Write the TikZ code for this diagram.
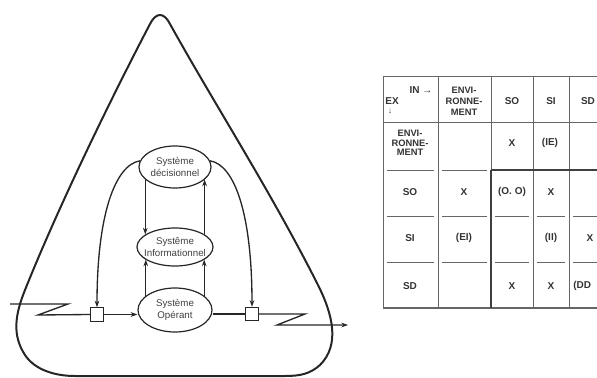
\documentclass[tikz,border=0pt]{standalone}
\usepackage{fontspec}
\setmainfont{Liberation Sans}
\usetikzlibrary{arrows.meta,shapes.geometric}
\begin{document}
\begin{tikzpicture}[x=0.75pt,y=-0.75pt,
  tri/.style={line width=1.5pt, draw=black!85, line join=round},
  conn/.style={line width=1pt, draw=black!85, line join=miter},
  arr/.style={conn, -{Stealth[length=5pt,width=3.5pt]}},
  ell/.style={ellipse, draw=black!85, line width=0.9pt, inner sep=0pt, fill=white},
  etxt/.style={font=\fontsize{7.3}{8.5}\selectfont, align=center, text=black!75, inner sep=0pt},
  sq/.style={draw=black!85, line width=0.8pt, fill=white, minimum size=10pt, inner sep=0pt},
  tl/.style={line width=0.6pt, draw=black!60},
  tk/.style={line width=1.3pt, draw=black!75},
  tt/.style={font=\bfseries\fontsize{7.5}{8}\selectfont, align=center, text=black!80, inner sep=0pt},
]
\useasboundingbox (0,0) rectangle (597,378);
\clip (0,0) rectangle (597,378);

% rounded triangle
\draw[tri] (150,24) .. controls (156,12) and (164,12) .. (170,24)
  .. controls (215,105) and (270,190) .. (318,285)
  .. controls (333,315) and (340,345) .. (320,365)
  .. controls (310,374) and (300,376) .. (285,376)
  -- (75,376)
  .. controls (55,376) and (35,370) .. (25,355)
  .. controls (12,335) and (15,315) .. (25,290)
  .. controls (55,215) and (105,110) .. (150,24) -- cycle;

% ellipses
\node[ell, minimum width=54pt, minimum height=31.5pt,
  label={[etxt,name=Dt]center:Système\\décisionnel}] (D) at (175,167) {};
\node[ell, minimum width=57pt, minimum height=28.5pt,
  label={[etxt,name=It]center:Systême\\Informationnel}] (I) at (175,247) {};
\node[ell, minimum width=55.5pt, minimum height=33pt,
  label={[etxt,name=Ot]center:Système\\Opérant}] (O) at (175,310) {};

% squares
\node[sq] (LS) at (97,314.5) {};
\node[sq] (RS) at (252,314) {};

% vertical arrows
\draw[arr] (D.203) -- (D.203 |- I.157);
\draw[arr] (I.23) -- (I.23 |- D.337);
\draw[arr] (O.154) -- (O.154 |- I.203);
\draw[arr] (O.26) -- (O.26 |- I.337);

% curved arrows
\draw[arr] (D.170) .. controls (115,165) and (97,215) .. (LS.north);
\draw[arr] (D.10) .. controls (235,165) and (252,215) .. (RS.north);

% main flow
\coordinate (Lin) at (10,304);
\coordinate (Rout) at (348,325);
\draw[conn] (Lin) -- (68,304) -- (38,315) -- (LS.west);
\draw[arr] (LS.east) -- (LS.east -| O.west);
\draw[conn] (RS.west -| O.east) -- (RS.west);
\draw[arr] (RS.east) -- (305,314) -- (277,325) -- (Rout);

% table lines
\draw[tl] (383,76) -- (597,76);
\draw[tl] (383,76) -- (383,308);
\draw[tl] (383,122) -- (597,122);
\draw[tl, line width=0.9pt] (383,308) -- (597,308);
\foreach \x in {438,533,569} \draw[tl] (\x,76) -- (\x,308);
\draw[tl] (491,76) -- (491,170);
\draw[tk] (491,170) -- (491,308);
\draw[tk] (491,170) -- (597,170);
\foreach \y in {170,216,262} {
  \draw[tl] (387,\y) -- (434,\y);
  \draw[tl] (442,\y) -- (487,\y);
}
\foreach \y in {216,262} {
  \draw[tl] (495,\y) -- (529,\y);
  \draw[tl] (537,\y) -- (565,\y);
  \draw[tl] (573,\y) -- (597,\y);
}

% table texts
\node[tt] (hin) at (421,90) {IN →};
\node[tt] (hex) at (392,101) {EX};
\node[tt, font=\fontsize{6}{6}\selectfont] (hdn) at (390,111) {↓};
\node[tt, font=\bfseries\fontsize{7}{8.2}\selectfont] (hEnv) at (464,101) {ENVI-\\RONNE-\\MENT};
\node[tt] (hSO) at (512,101) {SO};
\node[tt] (hSI) at (551,101) {SI};
\node[tt] (hSD) at (588,101) {SD};

\node[tt, font=\bfseries\fontsize{7}{7}\selectfont] (rEnv) at (410,143) {ENVI-\\RONNE-\\MENT};
\node[tt] (rSO) at (410,192) {SO};
\node[tt] (rSI) at (410,238) {SI};
\node[tt] (rSD) at (410,286) {SD};

\node[tt] (c13) at (512,143) {X};
\node[tt] (c14) at (550,143) {(IE)};
\node[tt] (c22) at (464,192) {X};
\node[tt] (c23) at (512,192) {(O. O)};
\node[tt] (c24) at (551,192) {X};
\node[tt] (c32) at (464,238) {(EI)};
\node[tt] (c34) at (551,238) {(II)};
\node[tt] (c35) at (590,238) {X};
\node[tt] (c43) at (512,286) {X};
\node[tt] (c44) at (551,286) {X};
\node[tt, anchor=west] (c45) at (573,286) {(DD};
\end{tikzpicture}
\end{document}
